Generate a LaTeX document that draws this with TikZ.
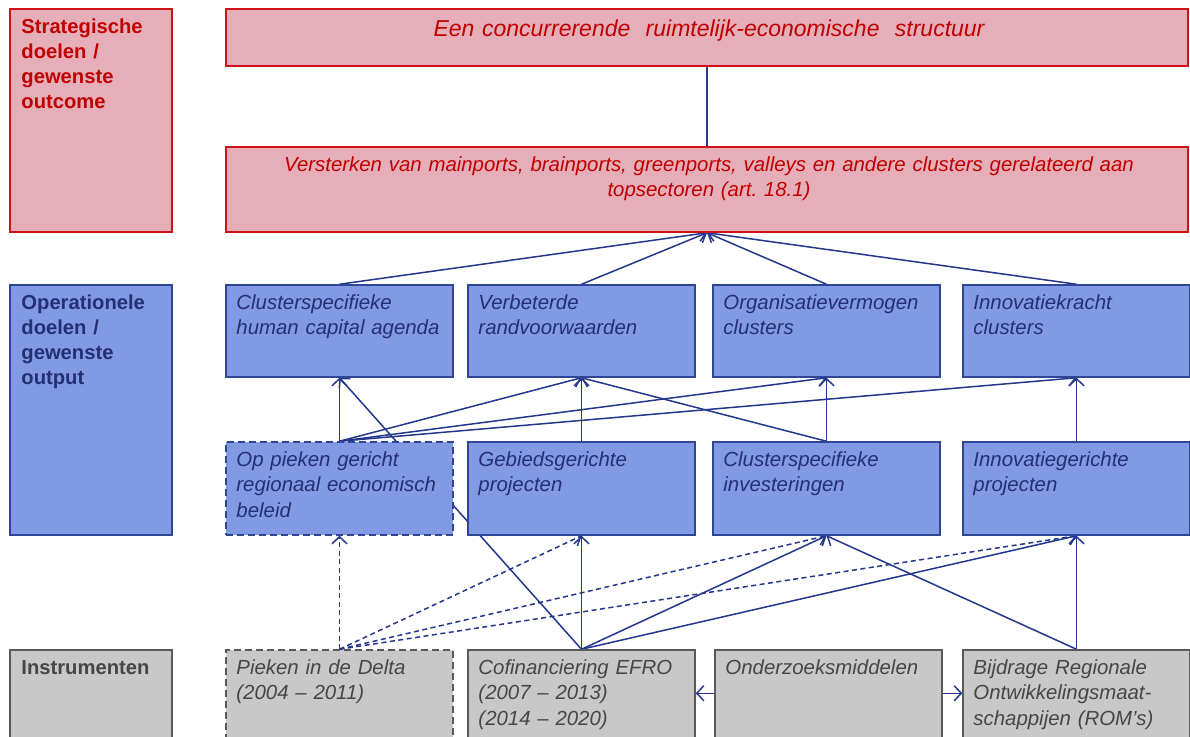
\documentclass[tikz,border=0pt]{standalone}
\usepackage{fontspec}
\setmainfont{Liberation Sans}
\usetikzlibrary{fit,arrows.meta}
\pgfdeclarelayer{bg}
\pgfsetlayers{bg,main}
\frenchspacing
\definecolor{pinkfill}{RGB}{230,174,184}
\definecolor{redline}{RGB}{206,18,24}
\definecolor{redtext}{RGB}{192,0,0}
\definecolor{bluefill}{RGB}{130,153,228}
\definecolor{blueline}{RGB}{47,69,150}
\definecolor{bluetext}{RGB}{36,48,115}
\definecolor{grayfill}{RGB}{200,200,200}
\definecolor{grayline}{RGB}{90,90,90}
\definecolor{graytext}{RGB}{70,70,70}
\definecolor{arrowc}{RGB}{35,55,140}
\begin{document}
\begin{tikzpicture}[x=1pt,y=-1pt,
  box/.style={inner sep=0pt, line width=1.5pt},
  pinkbox/.style={box, draw=redline, fill=pinkfill},
  bluebox/.style={box, draw=blueline, fill=bluefill},
  graybox/.style={box, draw=grayline, fill=grayfill},
  dashedbox/.style={dash pattern=on 7pt off 4pt},
  ltxt/.style={inner sep=0pt, anchor=base west, align=left, text width=215pt, font=\fontsize{20.4}{25.5}\selectfont\itshape},
  headtxt/.style={inner sep=0pt, anchor=base west, align=left, text width=150pt, font=\fontsize{20.2}{25}\selectfont\bfseries},
  ctxt/.style={inner sep=0pt, anchor=base, align=center, text width=940pt, text=redtext},
  conn/.style={draw=arrowc, line width=1.5pt, -{Straight Barb[length=7pt,width=15pt]}},
  dconn/.style={conn, dash pattern=on 5pt off 3.5pt},
  plainline/.style={draw=arrowc, line width=1.5pt},
]
\useasboundingbox (0,0) rectangle (1190,736);
% left column
\node[pinkbox, fit={(10,9) (172,232)}] (h1) {};
\node[bluebox, fit={(10,285) (172,535)}] (h2) {};
\node[graybox, fit={(10,650) (172,750)}] (h3) {};
\node[headtxt, text=redtext] (h1t) at ([shift={(12,25)}]h1.north west) {Strategische\\doelen /\\gewenste\\outcome};
\node[headtxt, text=bluetext] (h2t) at ([shift={(12,25)}]h2.north west) {Operationele\\doelen /\\gewenste\\output};
\node[headtxt, text=graytext] (h3t) at ([shift={(12,25)}]h3.north west) {Instrumenten};
% strategic
\node[pinkbox, fit={(226,9) (1188,66)}] (s1) {};
\node[pinkbox, fit={(226,147) (1188,232)}] (s2) {};
\node[ctxt, font=\fontsize{23}{28}\selectfont\itshape] (s1t) at ([shift={(2,28)}]s1.north) {Een concurrerende\ \ ruimtelijk-economische\ \ structuur};
\node[ctxt, font=\fontsize{20.4}{25}\selectfont\itshape] (s2t) at ([shift={(2,25)}]s2.north) {Versterken van mainports, brainports, greenports, valleys en andere clusters gerelateerd aan\\topsectoren (art. 18.1)};
% row 2
\node[bluebox, fit={(226,285) (453,377)}] (o1) {};
\node[bluebox, fit={(468,285) (695,377)}] (o2) {};
\node[bluebox, fit={(713,285) (940,377)}] (o3) {};
\node[bluebox, fit={(963,285) (1190,377)}] (o4) {};
% row 3
\node[bluebox, dashedbox, fit={(226,442) (453,535)}] (p1) {};
\node[bluebox, fit={(468,442) (695,535)}] (p2) {};
\node[bluebox, fit={(713,442) (940,535)}] (p3) {};
\node[bluebox, fit={(963,442) (1190,535)}] (p4) {};
% row 4
\node[graybox, dashedbox, fit={(226,650) (453,750)}] (i1) {};
\node[graybox, fit={(468,650) (695,750)}] (i2) {};
\node[graybox, fit={(715,650) (942,750)}] (i3) {};
\node[graybox, fit={(963,650) (1190,750)}] (i4) {};
% texts
\node[ltxt, text=bluetext] (o1t) at ([shift={(11,25)}]o1.north west) {Clusterspecifieke\\human capital agenda};
\node[ltxt, text=bluetext] (o2t) at ([shift={(11,25)}]o2.north west) {Verbeterde\\randvoorwaarden};
\node[ltxt, text=bluetext] (o3t) at ([shift={(11,25)}]o3.north west) {Organisatievermogen\\clusters};
\node[ltxt, text=bluetext] (o4t) at ([shift={(11,25)}]o4.north west) {Innovatiekracht\\clusters};
\node[ltxt, text=bluetext] (p1t) at ([shift={(11,25)}]p1.north west) {Op pieken gericht\\regionaal economisch\\beleid};
\node[ltxt, text=bluetext] (p2t) at ([shift={(11,25)}]p2.north west) {Gebiedsgerichte\\projecten};
\node[ltxt, text=bluetext] (p3t) at ([shift={(11,25)}]p3.north west) {Clusterspecifieke\\investeringen};
\node[ltxt, text=bluetext] (p4t) at ([shift={(11,25)}]p4.north west) {Innovatiegerichte\\projecten};
\node[ltxt, text=graytext] (i1t) at ([shift={(11,25)}]i1.north west) {Pieken in de Delta\\(2004 – 2011)};
\node[ltxt, text=graytext] (i2t) at ([shift={(11,25)}]i2.north west) {Cofinanciering EFRO\\(2007 – 2013)\\(2014 – 2020)};
\node[ltxt, text=graytext] (i3t) at ([shift={(11,25)}]i3.north west) {Onderzoeksmiddelen};
\node[ltxt, text=graytext] (i4t) at ([shift={(11,25)}]i4.north west) {Bijdrage Regionale\\Ontwikkelingsmaat-\\schappijen (ROM’s)};
% connectors
\begin{pgfonlayer}{bg}
\draw[plainline] (s1.south) -- (s2.north);
\foreach \n in {o1,o2,o3,o4} \draw[conn] (\n.north) -- (s2.south);
\draw[conn] (p1.north) -- (o1.south);
\draw[conn] (p1.north) -- (o2.south);
\draw[conn] (p1.north) -- (o3.south);
\draw[conn] (p1.north) -- (o4.south);
\draw[conn] (p2.north) -- (o2.south);
\draw[conn] (p3.north) -- (o2.south);
\draw[conn] (p3.north) -- (o3.south);
\draw[conn] (p4.north) -- (o4.south);
\draw[conn] (i2.north) -- (o1.south);
\draw[dconn] (i1.north) -- (p1.south);
\draw[dconn] (i1.north) -- (p2.south);
\draw[dconn] (i1.north) -- (p3.south);
\draw[dconn] (i1.north) -- (p4.south);
\draw[conn] (i2.north) -- (p2.south);
\draw[conn] (i2.north) -- (p3.south);
\draw[conn] (i2.north) -- (p4.south);
\draw[conn] (i4.north) -- (p3.south);
\draw[conn] (i4.north) -- (p4.south);
\draw[conn] ([shift={(0,44)}]i3.north west) -- ([shift={(0,44)}]i2.north east);
\draw[conn] ([shift={(0,44)}]i3.north east) -- ([shift={(0,44)}]i4.north west);
\end{pgfonlayer}
\end{tikzpicture}
\end{document}
